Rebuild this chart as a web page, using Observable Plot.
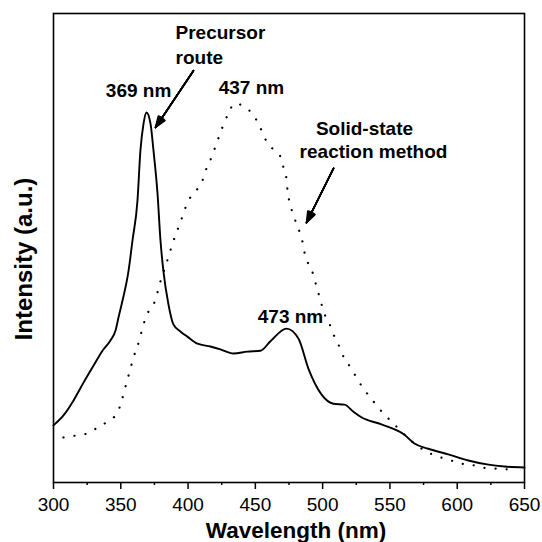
<!DOCTYPE html>
<html>
<head>
<meta charset="utf-8">
<script src="https://cdn.jsdelivr.net/npm/d3@7"></script>
<script src="https://cdn.jsdelivr.net/npm/@observablehq/plot@0.6"></script>
<style>
  html, body { margin: 0; padding: 0; background: #fff; }
  #chart { width: 542px; height: 542px; }
</style>
</head>
<body>
<div id="chart"></div>
<script>
// Precursor route (solid line): wavelength (nm) and intensity (a.u.)
const precursorWavelength = [300, 307.4, 314.9, 322.3, 329.7, 336.4, 342.3, 346.1, 348.3, 351.3, 355.7, 358.7, 362.4, 364.6, 366.9, 369.1, 372.1, 374.3, 377.3, 379.5, 381.7, 385.4, 389.1, 394.3, 399.5, 407, 416.6, 424, 433.7, 444.1, 453.8, 461.2, 473.1, 482, 489.4, 499.1, 508, 516.2, 522.9, 528.8, 543.7, 560.8, 568.2, 578.6, 593.4, 608.3, 623.2, 635, 650];
const precursorIntensity = [12.2, 14.3, 17.5, 21.3, 24.9, 28.1, 30.3, 32.4, 35.2, 38.8, 45.0, 51.6, 60.1, 70.8, 76.5, 78.9, 76.5, 70.8, 61.6, 51.6, 45.0, 38.0, 33.7, 32.2, 31.1, 29.6, 29.0, 28.4, 27.5, 27.9, 28.1, 30.1, 32.8, 30.7, 24.3, 18.8, 16.8, 16.6, 15.1, 13.9, 12.4, 10.2, 8.3, 7.2, 6.0, 4.7, 3.8, 3.4, 3.2];

// Solid-state reaction method (dotted line)
const solidWavelength = [307.4, 316.3, 324.5, 332.7, 340.1, 347.5, 350.5, 352.7, 355, 357.2, 359.4, 362.4, 364.6, 366.9, 369.8, 375, 379.5, 383.2, 386.9, 390.6, 393.6, 396.6, 399.5, 405.5, 410.7, 413.7, 417.4, 420.3, 423.3, 426.3, 430, 434.5, 442.6, 448.6, 453, 456.7, 462.7, 468.6, 470.9, 473.1, 473.8, 475.3, 477.6, 480.5, 483.5, 485.7, 487.2, 491.7, 493.9, 496.1, 498.4, 501.3, 505, 508, 511.7, 516.2, 521.4, 525.8, 531, 537.7, 545.2, 552.6, 560.8, 577.1, 586, 593.4, 601.6, 610.5, 618, 626.9, 635, 642.5];
const solidIntensity = [9.6, 10.0, 10.4, 11.7, 13.0, 14.9, 17.3, 19.6, 22.0, 24.3, 26.7, 29.0, 31.3, 33.7, 36.0, 38.4, 42.9, 46.1, 49.5, 52.7, 55.0, 57.4, 59.7, 62.0, 64.4, 67.0, 69.3, 71.6, 74.0, 76.3, 78.7, 80.8, 80.0, 78.3, 76.1, 73.6, 71.2, 69.5, 67.2, 64.8, 62.5, 59.9, 57.6, 55.2, 52.9, 50.5, 48.0, 45.6, 43.3, 41.2, 38.8, 36.0, 33.9, 31.6, 29.4, 26.4, 24.3, 22.0, 19.8, 17.3, 14.7, 12.6, 10.2, 6.6, 5.5, 4.9, 4.1, 3.8, 3.2, 3.0, 2.8, 2.8];

// Axis ticks
const majorTicks = [300, 350, 400, 450, 500, 550, 600, 650];
const minorTicks = [325, 375, 425, 475, 525, 575, 625];

// Annotation texts (anchored in data coordinates)
const labelTexts = ["369 nm", "437 nm", "473 nm", "Precursor", "route", "Solid-state", "reaction method"];
const labelX = [363.2, 447.1, 476.1, 390.7, 390.7, 531.1, 537.8];
const labelY = [83.6, 84.2, 35.4, 95.9, 90.6, 75.3, 70.4];
const labelAnchor = ["middle", "middle", "middle", "start", "start", "middle", "middle"];

// Arrows
const arrowX1 = [404.0, 508.1];
const arrowY1 = [87.8, 67.0];
const arrowX2 = [375.8, 488.0];
const arrowY2 = [75.7, 55.4];

const precursor = precursorWavelength.map((w, i) => ({w, v: precursorIntensity[i]}));
const solid = solidWavelength.map((w, i) => ({w, v: solidIntensity[i]}));
const labels = labelTexts.map((t, i) => ({t, x: labelX[i], y: labelY[i], a: labelAnchor[i]}));
const arrows = arrowX1.map((x1, i) => ({x1, y1: arrowY1[i], x2: arrowX2[i], y2: arrowY2[i]}));

const font = "'Liberation Sans', Arial, Helvetica, sans-serif";

// filled-looking arrowheads: overlay heads of decreasing angle
const arrowMarks = [40, 30, 20, 10, 4].map(a =>
  Plot.arrow(arrows, {x1: "x1", y1: "y1", x2: "x2", y2: "y2", stroke: "#000", strokeWidth: 1.6, headLength: 11, headAngle: a})
);

const chart = Plot.plot({
  width: 542,
  height: 542,
  marginLeft: 53,
  marginRight: 18,
  marginTop: 13,
  marginBottom: 60,
  style: {fontFamily: font, fontSize: "19px", color: "#000", background: "#fff", overflow: "visible"},
  x: {domain: [300, 650]},
  y: {domain: [0, 100], axis: null},
  marks: [
    Plot.axisX({ticks: minorTicks, tickSize: 3, tickFormat: () => "", strokeWidth: 1.5, label: null}),
    Plot.axisX({ticks: majorTicks, tickSize: 7, tickPadding: 8, strokeWidth: 1.5, label: null, tickFormat: d => String(d)}),
    Plot.frame({stroke: "#000", strokeWidth: 1.6}),
    Plot.line(solid, {x: "w", y: "v", stroke: "#000", strokeWidth: 2.2, strokeDasharray: "0.1,11", strokeLinecap: "round", curve: "monotone-x"}),
    Plot.line(precursor, {x: "w", y: "v", stroke: "#000", strokeWidth: 1.9, curve: "monotone-x"}),
    ...arrowMarks,
    Plot.text(labels.filter(d => d.a === "middle"), {x: "x", y: "y", text: "t", fontSize: 19, fontWeight: "bold", textAnchor: "middle"}),
    Plot.text(labels.filter(d => d.a === "start"), {x: "x", y: "y", text: "t", fontSize: 19, fontWeight: "bold", textAnchor: "start"}),
    Plot.text(["Wavelength (nm)"], {frameAnchor: "bottom", lineAnchor: "middle", dx: 7, dy: 48, fontSize: 22.5, fontWeight: "bold", textAnchor: "middle"}),
    Plot.text(["Intensity (a.u.)"], {frameAnchor: "left", lineAnchor: "middle", dx: -29, dy: 11, rotate: -90, fontSize: 24, fontWeight: "bold", textAnchor: "middle"})
  ]
});
document.getElementById("chart").appendChild(chart);
</script>
</body>
</html>
